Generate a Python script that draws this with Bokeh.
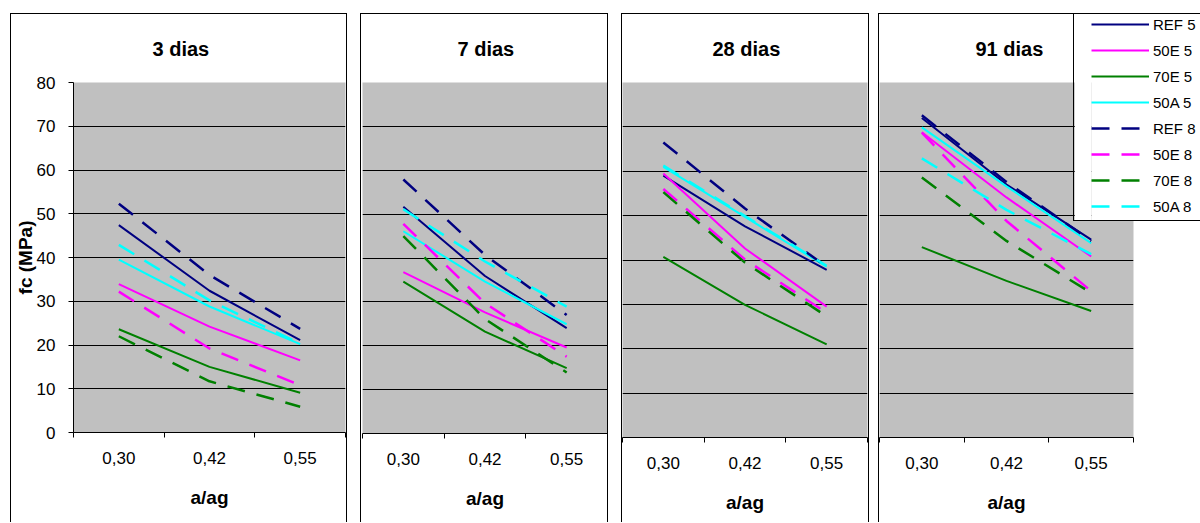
from bokeh.plotting import figure
from bokeh.models import Range1d, FixedTicker, Legend, LegendItem, Spacer, Grid
from bokeh.layouts import row, column
from bokeh.embed import file_html
from bokeh.resources import INLINE

# ---------------- data ----------------
categories = ["0,30", "0,42", "0,55"]
panel_titles = ["3 dias", "7 dias", "28 dias", "91 dias"]
series_names = ["REF 5", "50E 5", "70E 5", "50A 5", "REF 8", "50E 8", "70E 8", "50A 8"]
series_colors = ["#000080", "#FF00FF", "#008000", "#00FFFF",
                 "#000080", "#FF00FF", "#008000", "#00FFFF"]
series_dashed = [False, False, False, False, True, True, True, True]
y_ticks = [0, 10, 20, 30, 40, 50, 60, 70, 80]
grid_ticks = [10, 20, 30, 40, 50, 60, 70]

# values per panel, one list per series (order = series_names)
dias3 = [
    [47.4, 32.4, 21.1],
    [33.9, 24.2, 16.5],
    [23.6, 15.0, 9.1],
    [39.5, 28.8, 20.2],
    [52.3, 36.0, 23.7],
    [32.2, 19.2, 10.8],
    [22.0, 11.7, 5.9],
    [42.9, 30.2, 20.3],
]
dias7 = [
    [51.7, 35.9, 24.0],
    [36.8, 27.6, 19.6],
    [34.6, 23.2, 14.9],
    [46.1, 34.6, 24.9],
    [57.9, 40.7, 27.0],
    [47.8, 29.7, 17.5],
    [45.0, 26.1, 13.9],
    [51.1, 39.2, 28.9],
]
dias28 = [
    [59.0, 47.6, 37.8],
    [59.5, 42.6, 29.5],
    [40.7, 29.9, 21.0],
    [61.0, 49.7, 38.5],
    [66.5, 51.6, 38.5],
    [56.0, 40.1, 28.1],
    [55.3, 39.4, 27.3],
    [61.3, 49.9, 38.7],
]
dias91 = [
    [72.0, 57.0, 44.6],
    [68.8, 54.1, 40.8],
    [42.9, 35.3, 28.5],
    [69.9, 56.6, 43.8],
    [72.6, 57.6, 44.3],
    [68.7, 48.8, 33.0],
    [58.6, 44.3, 32.6],
    [62.9, 51.3, 41.3],
]
panel_data = [dias3, dias7, dias28, dias91]

# ---------------- layout ----------------
FONT = "Liberation Sans"
H = 508
xs = [i + 0.5 for i in range(len(categories))]

SH_FULL = ("0 -1px 0 0 #000, -1px 0 0 0 #000, 1px 0 0 0 #000, "
           "-1px -1px 0 0 #000, 1px -1px 0 0 #000")
SH_LEFT_TOP = "0 -1px 0 0 #000, -1px 0 0 0 #000, -1px -1px 0 0 #000"

specs = [
    # width, left, right, top, bottom, title offset, show y axis, frame shadow
    (335, 61, 1, 67, 90, 79, True, SH_FULL),
    (246, 1, 0, 66, 89, 95, False, SH_FULL),
    (246, 0, 1, 67, 85, 90, False, SH_FULL),
    (255, 0, 1, 68, 85, 96, False, SH_LEFT_TOP),
]

figs = []
for k, (w, bl, br, bt, bb, toff, show_y, shadow) in enumerate(specs):
    p = figure(width=w, height=H, x_range=Range1d(0, len(categories)), y_range=Range1d(0, 80),
               output_backend="svg", toolbar_location=None,
               min_border_left=bl, min_border_right=br, min_border_top=bt, min_border_bottom=bb,
               background_fill_color="#C0C0C0", border_fill_color="white",
               outline_line_color=None, y_axis_location="left" if show_y else None,
               title=panel_titles[k], styles={"box-shadow": shadow})
    p.frame_align = False
    p.title.align = "left"
    p.title.offset = toff
    p.title.vertical_align = "middle"
    p.title.standoff = 44
    p.title.text_font = FONT
    p.title.text_font_size = "20px"
    p.title.text_font_style = "bold"
    p.title.text_color = "black"

    p.xgrid.visible = False
    p.ygrid.visible = False
    p.add_layout(Grid(dimension=1, ticker=FixedTicker(ticks=grid_ticks),
                      grid_line_color="black", grid_line_width=1))

    xa = p.xaxis[0]
    xa.ticker = FixedTicker(ticks=xs, minor_ticks=list(range(len(categories) + 1)))
    xa.major_label_overrides = {x: c for x, c in zip(xs, categories)}
    xa.major_tick_out = 0
    xa.major_tick_in = 0
    xa.minor_tick_out = 5
    xa.minor_tick_in = 0
    xa.minor_tick_line_color = "black"
    xa.axis_line_color = "black"
    xa.major_label_text_font = FONT
    xa.major_label_text_font_size = "17px"
    xa.major_label_text_color = "black"
    xa.major_label_standoff = 14
    xa.axis_label = "a/ag"
    xa.axis_label_text_font = FONT
    xa.axis_label_text_font_size = "19px"
    xa.axis_label_text_font_style = "bold"
    xa.axis_label_text_color = "black"
    xa.axis_label_standoff = 20

    if show_y:
        ya = p.yaxis[0]
        ya.ticker = FixedTicker(ticks=y_ticks)
        ya.major_tick_out = 5
        ya.major_tick_in = 0
        ya.minor_tick_out = 0
        ya.axis_line_color = "black"
        ya.major_tick_line_color = "black"
        ya.major_label_text_font = FONT
        ya.major_label_text_font_size = "17px"
        ya.major_label_text_color = "black"
        ya.major_label_standoff = 13
        ya.axis_label = "fc (MPa)"
        ya.axis_label_text_font = FONT
        ya.axis_label_text_font_size = "19px"
        ya.axis_label_text_font_style = "bold"
        ya.axis_label_text_color = "black"
        ya.axis_label_standoff = -2

    for vals, col, dashed in zip(panel_data[k], series_colors, series_dashed):
        p.line(xs, vals, line_color=col, line_width=2.5 if dashed else 2,
               line_dash="18 12" if dashed else "solid")
    figs.append(p)

# ---------------- legend box (overlapping the last chart, like the original) ----------------
lg = figure(width=126, height=206, x_range=Range1d(0, len(categories)), y_range=Range1d(1000, 1001),
            output_backend="svg", toolbar_location=None,
            x_axis_location=None, y_axis_location=None,
            min_border_left=17, min_border_right=0, min_border_top=0, min_border_bottom=0,
            background_fill_color="white", border_fill_color="white", outline_line_color=None,
            margin=(0, 0, 0, -60),
            styles={"box-shadow": "0 -1px 0 0 #000, -1px 0 0 0 #000, 0 1px 0 0 #000, "
                                  "-1px -1px 0 0 #000, -1px 1px 0 0 #000"})
lg.frame_align = False
lg.grid.visible = False
legend_renderers = []
for vals, col, dashed in zip(dias91, series_colors, series_dashed):
    r = lg.line(xs, vals, line_color=col, line_width=2.5 if dashed else 2,
                line_dash="18 12" if dashed else "solid")
    legend_renderers.append(r)
legend = Legend(items=[LegendItem(label=n, renderers=[r]) for n, r in zip(series_names, legend_renderers)],
                location="top_left", border_line_color=None,
                background_fill_alpha=0,
                padding=1, spacing=6, margin=0,
                glyph_width=58, glyph_height=20, label_height=20, label_standoff=4,
                label_text_font=FONT, label_text_font_size="15px", label_text_color="black")
lg.add_layout(legend)

layout = column(Spacer(height=14),
                row(Spacer(width=11), figs[0], Spacer(width=15), figs[1],
                    Spacer(width=15), figs[2], Spacer(width=11), figs[3], lg))

open("out.html", "w").write(file_html(layout, INLINE))
